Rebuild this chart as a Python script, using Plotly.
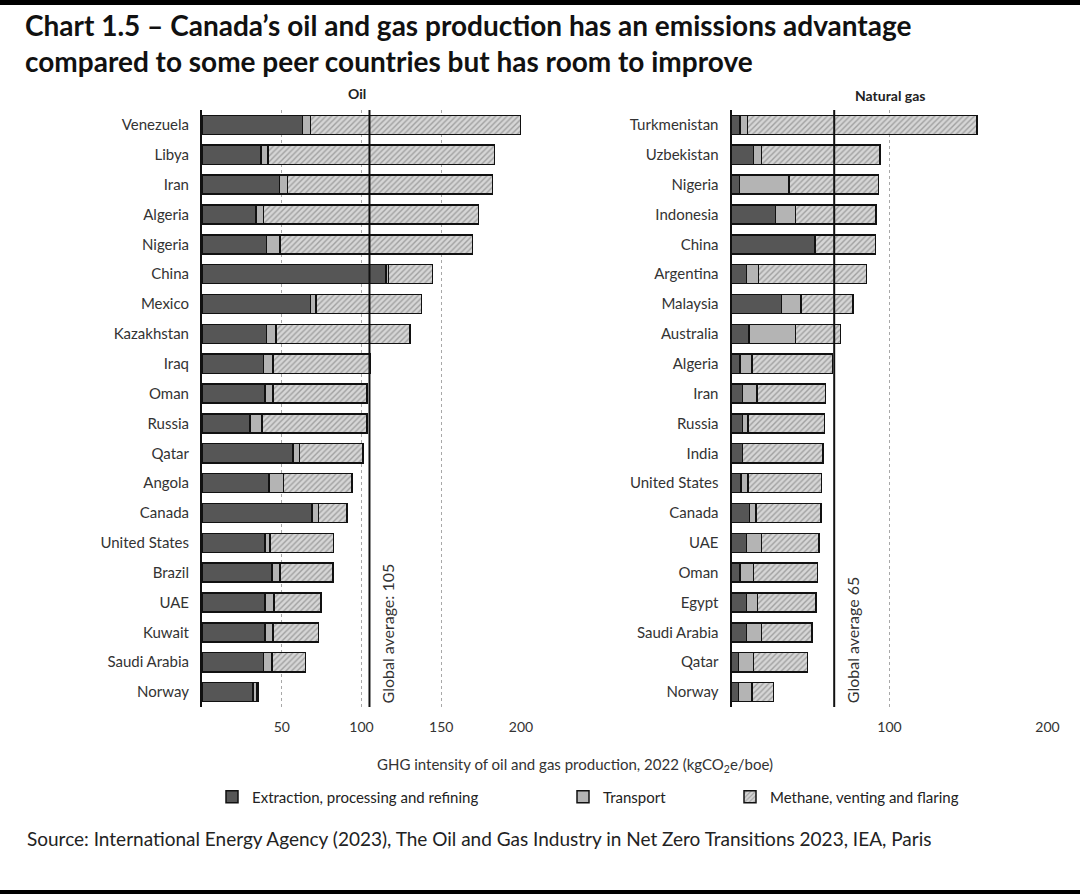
import plotly.graph_objects as go
from plotly.subplots import make_subplots

# oil panel (kgCO2e/boe), top to bottom
oil_countries = ["Venezuela", "Libya", "Iran", "Algeria", "Nigeria", "China", "Mexico",
                 "Kazakhstan", "Iraq", "Oman", "Russia", "Qatar", "Angola", "Canada",
                 "United States", "Brazil", "UAE", "Kuwait", "Saudi Arabia", "Norway"]
oil_extraction = [63, 37, 48.5, 34, 40.5, 115.5, 68, 40.5, 38.5, 39.5,
                  30, 57, 42, 69, 39.5, 44, 39.5, 39.5, 38.5, 32]
oil_transport = [5, 4.5, 5, 4.5, 8.5, 1.5, 3.5, 6, 6, 5,
                 7.5, 4, 9, 4, 3, 5, 5.5, 5, 5.5, 2.5]
oil_methane = [132, 142, 128.5, 135, 120.5, 27.5, 66, 84, 61, 59,
               66, 40, 43, 18, 40, 33, 29.5, 28.5, 21, 1]
oil_avg = 105

# natural gas panel
gas_countries = ["Turkmenistan", "Uzbekistan", "Nigeria", "Indonesia", "China", "Argentina",
                 "Malaysia", "Australia", "Algeria", "Iran", "Russia", "India", "United States",
                 "Canada", "UAE", "Oman", "Egypt", "Saudi Arabia", "Qatar", "Norway"]
gas_extraction = [5.5, 14, 5, 28, 52.5, 9.5, 31.5, 11, 5.5, 7,
                  7, 7, 6, 11.5, 9.5, 5.5, 9.5, 9.5, 4.5, 4.5]
gas_transport = [4.5, 5, 31.5, 12.5, 0.5, 7.5, 12.5, 29.5, 7.5, 9,
                 3.5, 0, 4.5, 4, 9.5, 8.5, 7, 9.5, 9.5, 8.5]
gas_methane = [145.5, 75, 56.5, 51, 38, 68.5, 33, 28.5, 51, 43.5,
               48.5, 51, 46.5, 41, 36.5, 40.5, 37, 32, 34, 13.5]
gas_avg = 65

oil_ticks = [50, 100, 150, 200]
gas_ticks = [100, 200]

series_names = ["Extraction, processing and refining", "Transport", "Methane, venting and flaring"]

FONT = "Lato"
W, H = 1080, 894

fig = make_subplots(rows=1, cols=2)

styles = [
    dict(color="#565656", line=dict(color="#111", width=1.5)),
    dict(color="#b4b4b4", line=dict(color="#111", width=1.5)),
    dict(color="#d6d6d6", line=dict(color="#111", width=1.5),
         pattern=dict(shape="/", fgcolor="#6a6a6a", bgcolor="#d6d6d6", size=4, solidity=0.35)),
]
legends = ["legend", "legend2", "legend3"]

oil_series = [oil_extraction, oil_transport, oil_methane]
gas_series = [gas_extraction, gas_transport, gas_methane]
for i, name in enumerate(series_names):
    fig.add_trace(go.Bar(y=oil_countries, x=oil_series[i], orientation="h", name=name,
                         marker=styles[i], legend=legends[i]), 1, 1)
    fig.add_trace(go.Bar(y=gas_countries, x=gas_series[i], orientation="h", name=name,
                         marker=styles[i], showlegend=False), 1, 2)

axis_common = dict(showgrid=True, gridcolor="#a8a8a8", griddash="dot", gridwidth=1,
                   zeroline=False, showline=False, ticks="", automargin=False,
                   ticklabelstandoff=10,
                   tickfont=dict(family=FONT, size=14, color="#333"))
fig.update_xaxes(range=[0, 200], **axis_common)
fig.update_xaxes(tickvals=oil_ticks, domain=[202 / W, 521 / W], row=1, col=1)
fig.update_xaxes(tickvals=gas_ticks, domain=[731.5 / W, 1047.5 / W], row=1, col=2)
fig.update_yaxes(autorange="reversed", showgrid=False, zeroline=False, showline=True,
                 linecolor="#111", linewidth=2, ticks="", automargin=False,
                 ticklabelstandoff=8,
                 domain=[1 - 707 / H, 1 - 110 / H],
                 tickfont=dict(family=FONT, size=15, color="#333"))

# global average lines
for xref, avg, label in [("x", oil_avg, f"Global average: {oil_avg}"),
                         ("x2", gas_avg, f"Global average {gas_avg}")]:
    fig.add_shape(type="line", xref=xref, yref="paper", x0=avg, x1=avg,
                  y0=1 - 707 / H, y1=1 - 110 / H, line=dict(color="#111", width=2))
    fig.add_annotation(xref=xref, yref="paper", x=avg, y=1 - 705 / H, text=label,
                       textangle=-90, showarrow=False, xanchor="center", yanchor="bottom",
                       xshift=18, font=dict(family=FONT, size=16, color="#333"))

# panel titles
fig.add_annotation(xref="paper", yref="paper", x=357 / W, y=1 - 93 / H, text="<b>Oil</b>",
                   showarrow=False, xanchor="center", yanchor="middle",
                   font=dict(family=FONT, size=14, color="#222"))
fig.add_annotation(xref="paper", yref="paper", x=890 / W, y=1 - 96 / H, text="<b>Natural gas</b>",
                   showarrow=False, xanchor="center", yanchor="middle",
                   font=dict(family=FONT, size=14, color="#222"))

# x axis title
fig.add_annotation(xref="paper", yref="paper", x=575 / W, y=1 - 765 / H,
                   text="GHG intensity of oil and gas production, 2022 (kgCO<sub>2</sub>e/boe)",
                   showarrow=False, xanchor="center", yanchor="middle",
                   font=dict(family=FONT, size=15, color="#333"))

# source
fig.add_annotation(xref="paper", yref="paper", x=25 / W, y=1 - 838 / H,
                   xanchor="left", yanchor="middle",
                   text="Source: International Energy Agency (2023), The Oil and Gas Industry in Net Zero Transitions 2023, IEA, Paris",
                   showarrow=False, font=dict(family=FONT, size=19, color="#222"))

# top and bottom black bands
fig.add_shape(type="rect", xref="paper", yref="paper", x0=0, x1=1, y0=1 - 5 / H, y1=1,
              fillcolor="black", line_width=0)
fig.add_shape(type="rect", xref="paper", yref="paper", x0=0, x1=1, y0=0, y1=4 / H,
              fillcolor="black", line_width=0)

legend_style = dict(orientation="h", yanchor="middle", y=1 - 797 / H, xanchor="left",
                    itemwidth=30, font=dict(family=FONT, size=15, color="#222"),
                    bgcolor="rgba(0,0,0,0)")

fig.update_layout(
    width=W, height=H,
    margin=dict(l=0, r=0, t=0, b=0),
    paper_bgcolor="white", plot_bgcolor="white",
    barmode="stack", bargap=0.36,
    title=dict(text="<b>Chart 1.5 – Canada’s oil and gas production has an emissions advantage<br>"
                    "compared to some peer countries but has room to improve</b>",
               x=25 / W, xanchor="left", y=1 - 36 / H, yanchor="middle",
               font=dict(family=FONT, size=28, color="#111")),
    legend=dict(x=212 / W, **legend_style),
    legend2=dict(x=563 / W, **legend_style),
    legend3=dict(x=730 / W, **legend_style),
)

fig.write_html("out.html", config={"displayModeBar": False},
               post_script="document.body.style.margin = '0px';")
